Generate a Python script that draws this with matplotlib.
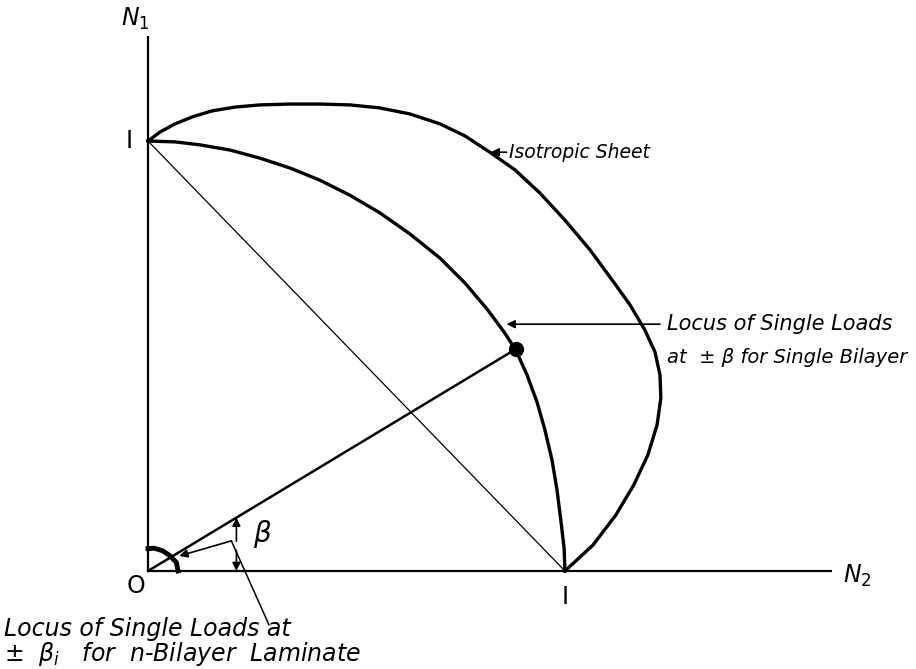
import numpy as np
import matplotlib
matplotlib.use("Agg")
from matplotlib import pyplot as plt

# failure envelope of an isotropic sheet (N2, N1)
iso_n2 = [0.000, 0.029, 0.065, 0.106, 0.153, 0.209, 0.269, 0.341, 0.412, 0.484,
          0.556, 0.628, 0.700, 0.760, 0.820, 0.880, 0.940, 1.000, 1.060, 1.113,
          1.156, 1.192, 1.216, 1.228, 1.230, 1.221, 1.199, 1.165, 1.122, 1.067, 1.000]
iso_n1 = [1.000, 1.021, 1.040, 1.056, 1.070, 1.079, 1.084, 1.086, 1.086, 1.084,
          1.077, 1.063, 1.040, 1.012, 0.974, 0.933, 0.879, 0.816, 0.747, 0.677,
          0.619, 0.560, 0.509, 0.456, 0.402, 0.340, 0.270, 0.200, 0.130, 0.060, 0.000]

# locus of single loads at +/- beta for one bilayer
bil_n2 = [0.000, 0.065, 0.125, 0.197, 0.269, 0.341, 0.412, 0.484, 0.556, 0.628,
          0.700, 0.760, 0.815, 0.856, 0.882, 0.909, 0.933, 0.952, 0.969, 0.981,
          0.990, 0.998, 1.000]
bil_n1 = [1.000, 0.998, 0.991, 0.979, 0.960, 0.937, 0.909, 0.874, 0.833, 0.784,
          0.728, 0.670, 0.607, 0.553, 0.514, 0.456, 0.393, 0.328, 0.258, 0.188,
          0.119, 0.053, 0.000]

# locus for the n-bilayer laminate (small, near origin)
lam_n2 = [0.0, 0.015, 0.035, 0.052, 0.068, 0.072]
lam_n1 = [0.052, 0.053, 0.047, 0.036, 0.020, 0.0]

# loading point on the bilayer locus
pt_n2, pt_n1 = 0.882, 0.516

fig = plt.figure(figsize=(9.16, 6.69), dpi=100)
ax = fig.add_axes([0, 0, 1, 1])
ax.set_xlim(-0.355, 1.842)
ax.set_ylim(-0.228, 1.328)
ax.axis("off")

k = "black"
tkw = dict(style="italic", family="DejaVu Sans", color=k)
akw = dict(arrowstyle="-|>", color=k, lw=1.2, mutation_scale=12, shrinkA=0, shrinkB=0)

# axes
ax.plot([0, 0], [0, 1.245], color=k, lw=1.6, solid_capstyle="butt")
ax.plot([0, 1.64], [0, 0], color=k, lw=1.6, solid_capstyle="butt")
ax.text(-0.03, 1.285, "$N_1$", ha="center", va="center", fontsize=17, color=k)
ax.text(1.70, -0.012, "$N_2$", ha="center", va="center", fontsize=17, color=k)
ax.text(-0.03, -0.035, "O", ha="center", va="center", fontsize=17, color=k)
ax.text(-0.045, 1.0, "I", ha="center", va="center", fontsize=17, color=k)
ax.text(1.0, -0.06, "I", ha="center", va="center", fontsize=17, color=k)

# curves
ax.plot(iso_n2, iso_n1, color=k, lw=2.4, solid_joinstyle="round")
ax.plot(bil_n2, bil_n1, color=k, lw=2.4, solid_joinstyle="round")
ax.plot([0, 1], [1, 0], color=k, lw=0.9)
ax.plot([0, pt_n2], [0, pt_n1], color=k, lw=1.8)
ax.plot(pt_n2, pt_n1, "o", color=k, ms=10)
ax.plot(lam_n2, lam_n1, color=k, lw=3.5)

# beta dimension arrows
bx = 0.212
by = pt_n1 / pt_n2 * bx
ax.annotate("", xy=(bx, by), xytext=(bx, by - 0.055), arrowprops=akw)
ax.annotate("", xy=(bx, 0), xytext=(bx, 0.048), arrowprops=akw)
ax.text(0.275, 0.087, r"$\beta$", ha="center", va="center", fontsize=20, color=k)

# label leaders
ax.annotate("", xy=(0.822, 0.974), xytext=(0.86, 0.974), arrowprops=akw)
ax.text(0.865, 0.974, "Isotropic Sheet", ha="left", va="center", fontsize=13.5, **tkw)

ax.annotate("", xy=(0.86, 0.574), xytext=(1.228, 0.574), arrowprops=akw)
ax.text(1.245, 0.574, "Locus of Single Loads", ha="left", va="center", fontsize=15, **tkw)
ax.text(1.245, 0.497, "at  \u00b1 \u03b2 for Single Bilayer", ha="left", va="center",
        fontsize=14, **tkw)

ax.annotate("", xy=(0.075, 0.035), xytext=(0.2, 0.07), arrowprops=akw)
ax.plot([0.2, 0.29], [0.07, -0.125], color=k, lw=1.1)
ax.text(-0.345, -0.135, "Locus of Single Loads at", ha="left", va="center", fontsize=17, **tkw)
ax.text(-0.345, -0.192, r"$\pm$  $\beta_i$   for  n-Bilayer  Laminate", ha="left", va="center",
        fontsize=17, **tkw)

fig.savefig("out.png", dpi=100)
